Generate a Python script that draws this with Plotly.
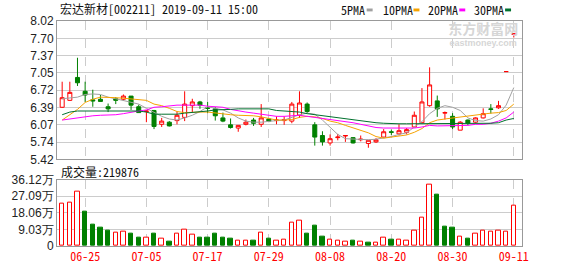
import plotly.graph_objects as go

# ---------------- data ----------------
dates = ["06-20", "06-21", "06-24", "06-25", "06-26", "06-27", "06-28",
         "07-01", "07-02", "07-03", "07-04", "07-05", "07-08", "07-09", "07-10",
         "07-11", "07-12", "07-15", "07-16", "07-17", "07-18", "07-19", "07-22",
         "07-23", "07-24", "07-25", "07-26", "07-29", "07-30", "07-31", "08-01",
         "08-02", "08-05", "08-06", "08-07", "08-08", "08-09", "08-12", "08-13",
         "08-14", "08-15", "08-16", "08-19", "08-20", "08-21", "08-22", "08-23",
         "08-26", "08-27", "08-28", "08-29", "08-30", "09-02", "09-03", "09-04",
         "09-05", "09-06", "09-09", "09-10", "09-11"]

opens = [6.40, 6.53, 6.96, 6.70, 6.54, 6.55, 6.41, 6.56, 6.55, 6.61,
         6.41, 6.32, 6.34, 6.08, 6.12, 6.15, 6.21, 6.43, 6.50, 6.39,
         6.37, 6.20, 6.07, 6.01, 6.08, 6.16, 6.08, 6.18, 6.15, 6.15,
         6.14, 6.25, 6.46, 6.07, 5.87, 5.73, 5.83, 5.86, 5.83, 5.79,
         5.72, 5.75, 5.84, 5.94, 5.90, 5.93, 6.03, 6.11, 6.43, 6.52,
         6.29, 6.23, 5.97, 6.16, 6.12, 6.20, 6.37, 6.39, 7.07, 7.77]
highs = [6.88, 6.88, 7.33, 6.88, 6.73, 6.63, 6.47, 6.59, 6.64, 6.61,
         6.45, 6.34, 6.35, 6.20, 6.14, 6.32, 6.70, 6.56, 6.52, 6.50,
         6.40, 6.30, 6.19, 6.06, 6.17, 6.20, 6.46, 6.20, 6.23, 6.23,
         6.50, 6.70, 6.49, 6.12, 5.95, 5.89, 5.90, 5.87, 5.84, 5.87,
         5.78, 5.82, 5.99, 5.98, 6.08, 6.01, 6.32, 6.76, 7.15, 6.62,
         6.32, 6.29, 6.14, 6.17, 6.21, 6.38, 6.46, 6.52, 7.07, 7.78]
lows = [6.39, 6.52, 6.80, 6.50, 6.41, 6.51, 6.31, 6.46, 6.52, 6.35,
        6.30, 6.12, 5.99, 6.03, 6.04, 6.08, 6.14, 6.31, 6.37, 6.29,
        6.15, 6.12, 6.00, 5.94, 6.06, 6.05, 6.03, 6.12, 6.08, 6.07,
        6.10, 6.20, 6.29, 5.68, 5.68, 5.68, 5.78, 5.75, 5.72, 5.76,
        5.64, 5.73, 5.83, 5.88, 5.87, 5.89, 6.03, 6.10, 6.41, 6.22,
        6.17, 5.99, 5.97, 6.06, 6.11, 6.19, 6.28, 6.37, 7.07, 7.71]
closes = [6.58, 6.68, 6.86, 6.63, 6.52, 6.51, 6.37, 6.53, 6.61, 6.44,
          6.30, 6.33, 6.04, 6.14, 6.05, 6.25, 6.46, 6.50, 6.44, 6.38,
          6.24, 6.14, 6.02, 6.06, 6.12, 6.10, 6.20, 6.14, 6.16, 6.17,
          6.46, 6.48, 6.32, 5.84, 5.75, 5.81, 5.84, 5.87, 5.73, 5.80,
          5.78, 5.79, 5.94, 5.93, 5.96, 5.98, 6.25, 6.50, 6.82, 6.37,
          6.30, 6.03, 6.12, 6.10, 6.20, 6.28, 6.36, 6.43, 7.07, 7.78]
volumes = [229600, 238400, 296300, 187600, 115700, 98200, 82400, 75400, 80600, 66600,
           45600, 43800, 66600, 38600, 24500, 64900, 91200, 59600, 43800, 43800,
           66600, 45600, 40300, 28000, 28000, 28000, 70100, 40300, 28000, 33300,
           128000, 138500, 66600, 108700, 50800, 33300, 28000, 22800, 28000, 22800,
           19300, 17500, 43800, 35100, 33300, 28000, 85900, 154300, 333000, 277000,
           103400, 98200, 49100, 40300, 64900, 85900, 77100, 85900, 77100, 219876]

ma5 = [6.56, 6.58, 6.59, 6.64, 6.65, 6.64, 6.59, 6.56, 6.53, 6.50,
       6.46, 6.38, 6.31, 6.23, 6.18, 6.16, 6.20, 6.25, 6.32, 6.41,
       6.38, 6.35, 6.29, 6.20, 6.14, 6.12, 6.12, 6.14, 6.15, 6.16,
       6.21, 6.26, 6.29, 6.27, 6.16, 6.02, 5.89, 5.81, 5.80, 5.79,
       5.79, 5.80, 5.82, 5.85, 5.89, 5.92, 6.03, 6.13, 6.28, 6.38,
       6.43, 6.40, 6.34, 6.20, 6.15, 6.14, 6.18, 6.26, 6.44, 6.77]
ma10 = [6.16, 6.26, 6.36, 6.49, 6.55, 6.59, 6.59, 6.58, 6.57, 6.56,
        6.55, 6.53, 6.46, 6.43, 6.38, 6.32, 6.30, 6.31, 6.31, 6.31,
        6.29, 6.27, 6.26, 6.25, 6.25, 6.24, 6.22, 6.19, 6.16, 6.16,
        6.17, 6.21, 6.23, 6.22, 6.19, 6.14, 6.11, 6.06, 6.01, 5.96,
        5.92, 5.85, 5.82, 5.84, 5.86, 5.88, 5.93, 6.00, 6.11, 6.16,
        6.18, 6.20, 6.22, 6.23, 6.26, 6.27, 6.29, 6.30, 6.34, 6.46]
ma20 = [6.16, 6.18, 6.21, 6.23, 6.24, 6.25, 6.25, 6.26, 6.28, 6.31,
        6.33, 6.35, 6.40, 6.41, 6.43, 6.44, 6.44, 6.44, 6.44, 6.42,
        6.41, 6.40, 6.36, 6.33, 6.31, 6.29, 6.27, 6.25, 6.23, 6.23,
        6.24, 6.25, 6.23, 6.21, 6.20, 6.18, 6.16, 6.14, 6.11, 6.08,
        6.05, 6.02, 6.01, 6.01, 6.01, 6.01, 6.01, 6.03, 6.06, 6.05,
        6.05, 6.05, 6.05, 6.06, 6.08, 6.08, 6.10, 6.14, 6.20, 6.31]
ma30 = [6.26, 6.31, 6.33, 6.33, 6.33, 6.33, 6.33, 6.33, 6.33, 6.33,
        6.33, 6.31, 6.27, 6.27, 6.27, 6.27, 6.29, 6.30, 6.31, 6.33,
        6.35, 6.35, 6.36, 6.37, 6.37, 6.37, 6.37, 6.37, 6.34, 6.33,
        6.32, 6.31, 6.28, 6.26, 6.25, 6.22, 6.20, 6.18, 6.16, 6.14,
        6.12, 6.11, 6.10, 6.09, 6.09, 6.09, 6.09, 6.09, 6.10, 6.10,
        6.10, 6.10, 6.10, 6.10, 6.10, 6.10, 6.10, 6.11, 6.16, 6.19]

price_min, price_max = 5.42, 8.02
price_tick_labels = ["5.42", "5.74", "6.07", "6.39", "6.72", "7.05", "7.37", "7.70", "8.02"]
vol_max = 361200
vol_tick_labels = ["0", "9.03万", "18.06万", "27.09万", "36.12万"]
date_ticks = ["06-25", "07-05", "07-17", "07-29", "08-08", "08-20", "08-30", "09-11"]

title_text = "宏达新材[002211] 2019-09-11 15:00"
vol_text = "成交量:219876"
ma_names = ["5PMA", "10PMA", "20PMA", "30PMA"]
ma_colors = ["#a0a0a0", "#f5a200", "#ff00ff", "#00702e"]
watermark_cn = "东方财富网"
watermark_en = "eastmoney.com"

# ---------------- figure ----------------
W, H = 578, 276
L, R, T, B = 55, 56, 21, 21
PW, PH = W - L - R, H - T - B


def px(xp):
    return (xp - L) / PW


def py(yp):
    return (H - B - yp) / PH


def price_at(yp):
    # price value at a pixel row of the price panel (top 21, bottom 165)
    return price_min + (165 - yp) * (price_max - price_min) / 144


RED = "#ff0000"
GREEN = "#008000"
MONO = "Noto Sans Mono CJK SC, Noto Sans CJK SC, Liberation Mono, monospace"
SANS = "Liberation Sans, Arial, sans-serif"

fig = go.Figure()

# watermark drawn first so the candles sit above it
fig.add_trace(go.Scatter(
    x=["09-05", "09-05"], y=[price_at(30.5), price_at(45)],
    text=["<b>" + watermark_cn + "</b>", "<b>" + watermark_en + "</b>"],
    mode="text", textposition="middle center",
    textfont=dict(family=["Noto Sans CJK SC", SANS], size=[14, 9], color="#d6d6d6"),
    xaxis="x", yaxis="y", showlegend=False, hoverinfo="skip"))

fig.add_trace(go.Candlestick(
    x=dates, open=opens, high=highs, low=lows, close=closes,
    increasing=dict(line=dict(color=RED, width=1), fillcolor="#ffffff"),
    decreasing=dict(line=dict(color=GREEN, width=1), fillcolor=GREEN),
    whiskerwidth=0, xaxis="x", yaxis="y", showlegend=False, hoverinfo="skip"))

for vals, col in zip([ma5, ma10, ma20, ma30], ma_colors):
    fig.add_trace(go.Scatter(x=dates, y=vals, mode="lines",
                             line=dict(color=col, width=1),
                             xaxis="x", yaxis="y", showlegend=False, hoverinfo="skip"))

vol_up = [closes[0] >= opens[0]] + [closes[i] >= closes[i - 1] for i in range(1, len(closes))]
fig.add_trace(go.Bar(
    x=dates, y=volumes, width=0.58,
    marker=dict(color=["#ffffff" if u else GREEN for u in vol_up],
                line=dict(color=[RED if u else GREEN for u in vol_up], width=1)),
    xaxis="x2", yaxis="y2", showlegend=False, hoverinfo="skip"))

price_tickvals = [price_min + k * (price_max - price_min) / 8 for k in range(9)]
vol_tickvals = [k * vol_max / 4 for k in range(5)]

xcommon = dict(type="category", categoryorder="array", categoryarray=dates,
               range=[-0.676, 60.07], tickvals=date_ticks,
               showgrid=True, gridcolor="#cccccc", griddash="dash", gridwidth=1,
               showline=True, linecolor="#999999", linewidth=1, mirror=True,
               zeroline=False, ticks="", fixedrange=True)

fig.update_layout(
    width=W, height=H, margin=dict(l=L, r=R, t=T, b=B),
    paper_bgcolor="#ffffff", plot_bgcolor="#ffffff", showlegend=False,
    boxgap=0.3, boxgroupgap=0.25,
    xaxis=dict(domain=[0, 1], anchor="y", showticklabels=False,
               rangeslider=dict(visible=False), **xcommon),
    yaxis=dict(domain=[py(165), 1], range=[price_min, price_max],
               tickvals=price_tickvals, ticktext=price_tick_labels,
               showgrid=True, gridcolor="#cccccc", gridwidth=1,
               showline=True, linecolor="#999999", mirror=True, zeroline=False,
               ticks="", tickfont=dict(family=SANS, size=12, color="#222222")),
    xaxis2=dict(domain=[0, 1], anchor="y2", showticklabels=True,
                tickfont=dict(family=MONO, size=12, color=RED), **xcommon),
    yaxis2=dict(domain=[0, py(186)], range=[0, vol_max],
                tickvals=vol_tickvals, ticktext=vol_tick_labels,
                showgrid=True, gridcolor="#cccccc", gridwidth=1,
                showline=True, linecolor="#999999", mirror=True, zeroline=False,
                ticks="", tickfont=dict(family=SANS, size=12, color="#222222")),
    bargap=0,
)

ann = []
ann.append(dict(text=title_text, x=px(56), y=py(8.5), xref="paper", yref="paper",
                xanchor="left", yanchor="middle", showarrow=False,
                font=dict(family=MONO, size=12, color="#111111")))
ann.append(dict(text=vol_text, x=px(57), y=py(177.5), xref="paper", yref="paper",
                xanchor="left", yanchor="middle", showarrow=False,
                font=dict(family=MONO, size=12, color="#111111")))

legend_text_x = [338, 380, 426, 472]
legend_box_x = [366, 413, 459, 505]
shapes = []
for name, col, tx, bx in zip(ma_names, ma_colors, legend_text_x, legend_box_x):
    ann.append(dict(text=name, x=px(tx), y=py(9), xref="paper", yref="paper",
                    xanchor="left", yanchor="middle", showarrow=False,
                    font=dict(family=MONO, size=12, color="#111111")))
    shapes.append(dict(type="rect", xref="paper", yref="paper",
                       x0=px(bx), x1=px(bx + 6), y0=py(11), y1=py(8),
                       fillcolor=col, line=dict(width=0)))

fig.update_layout(annotations=ann, shapes=shapes)

fig.write_html("out.html")
